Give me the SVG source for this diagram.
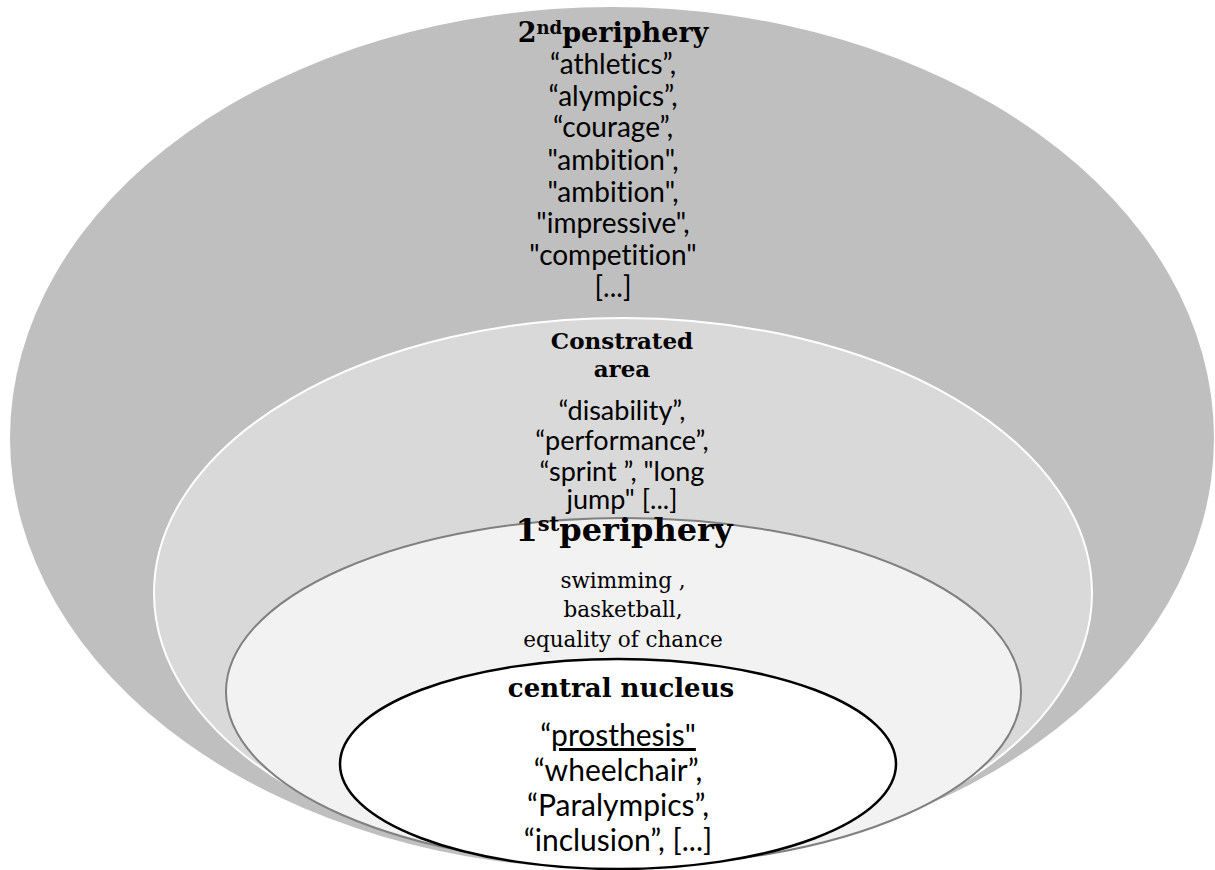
<svg xmlns="http://www.w3.org/2000/svg" width="1215" height="870" viewBox="0 0 1215 870">
<style>
.hd{font-family:"DejaVu Serif","Liberation Serif",serif;font-weight:bold;fill:#000;text-anchor:middle}
.sr{font-family:"DejaVu Serif","Liberation Serif",serif;fill:#000;text-anchor:middle}
.ss{font-family:Lato,"Liberation Sans",sans-serif;fill:#000;text-anchor:middle;font-variant-ligatures:none;font-feature-settings:"liga" 0}
</style>
<rect x="0" y="0" width="1215" height="870" fill="#ffffff"/>
<g id="outer-periphery">
<ellipse cx="612" cy="438" rx="602" ry="431" fill="#bfbfbf"/>
<text class="hd" x="613" y="42" font-size="27">2<tspan font-size="18" dy="-8">nd</tspan><tspan dy="8">periphery</tspan></text>
<text class="ss" font-size="28"><tspan x="613" y="74">“athletics”,</tspan><tspan x="613" y="106">“alympics”,</tspan><tspan x="613" y="137">“courage”,</tspan><tspan x="613" y="170">"ambition",</tspan><tspan x="613" y="202">"ambition",</tspan><tspan x="613" y="233">"impressive",</tspan><tspan x="613" y="265">"competition"</tspan><tspan x="613" y="297">[...]</tspan></text>
</g>
<g id="contrasted-area">
<ellipse cx="623" cy="593" rx="469" ry="275" fill="#d9d9d9" stroke="#ffffff" stroke-width="2"/>
<text class="hd" font-size="23"><tspan x="622" y="349">Constrated</tspan><tspan x="622" y="377">area</tspan></text>
<text class="ss" font-size="27"><tspan x="622" y="420">“disability”,</tspan><tspan x="622" y="450">“performance”,</tspan><tspan x="622" y="481">“sprint ”, "long</tspan><tspan x="622" y="509">jump" [...]</tspan></text>
</g>
<g id="first-periphery">
<ellipse cx="623.5" cy="692" rx="397.5" ry="174" fill="#f2f2f2" stroke="#808080" stroke-width="2"/>
<text class="hd" x="624" y="541" font-size="32">1<tspan font-size="21" dy="-10">st</tspan><tspan dy="10">periphery</tspan></text>
<text class="sr" font-size="21.5"><tspan x="623" y="588">swimming ,</tspan><tspan x="623" y="617">basketball,</tspan><tspan x="623" y="647">equality of chance</tspan></text>
</g>
<g id="central-nucleus">
<ellipse cx="618" cy="764" rx="278" ry="105" fill="#ffffff" stroke="#000000" stroke-width="2.5"/>
<text class="hd" x="621" y="697" font-size="26">central nucleus</text>
<text class="ss" font-size="30"><tspan x="618" y="746">“<tspan text-decoration="underline">prosthesis"</tspan></tspan><tspan x="618" y="781">“wheelchair”,</tspan><tspan x="618" y="816">“Paralympics”,</tspan><tspan x="618" y="851">“inclusion”, [...]</tspan></text>
</g>
<g id="connectors"></g>
</svg>
